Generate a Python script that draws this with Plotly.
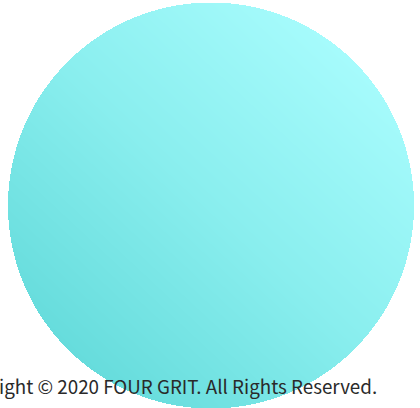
import numpy as np
import plotly.graph_objects as go

# Decorative circle parameters (screen pixel space)
circle_center = [210.5, 205.0]
circle_radius = 203.0
gradient_colors = [[0.0, "#66dcdc"], [0.5, "#89eeee"], [1.0, "#a6fbfc"]]
footer_text = ["Copyright © 2020 FOUR GRIT. All Rights Reserved."]

W, H = 420, 408
xs = np.arange(0, W + 1, 1.0)
ys = np.arange(0, H + 1, 1.0)
X, Y = np.meshgrid(xs, ys)
cx, cy = circle_center
d = np.array([0.68, -0.73])
d = d / np.linalg.norm(d)
proj = ((X - cx) * d[0] + (Y - cy) * d[1]) / circle_radius
Z = 0.5 + proj / 2
inside = (X - cx) ** 2 + (Y - cy) ** 2 <= circle_radius ** 2
Z = np.where(inside, Z, np.nan)

fig = go.Figure()
fig.add_trace(go.Heatmap(x=xs, y=ys, z=Z, colorscale=gradient_colors, zmin=0, zmax=1,
                         showscale=False, hoverinfo="skip", zsmooth="best"))
fig.add_annotation(x=378.5, y=401, xref="x", yref="y", text=footer_text[0], showarrow=False,
                   xanchor="right", yanchor="bottom",
                   font=dict(family="Noto Sans CJK JP", size=18.8, color="#2a2a2a"))
fig.update_layout(width=W, height=H, margin=dict(l=0, r=0, t=0, b=0),
                  paper_bgcolor="white", plot_bgcolor="white",
                  xaxis=dict(range=[0, W], visible=False, fixedrange=True),
                  yaxis=dict(range=[H, 0], visible=False, fixedrange=True))
fig.write_html("out.html", config={"displayModeBar": False},
               post_script="document.body.style.margin='0px';")
